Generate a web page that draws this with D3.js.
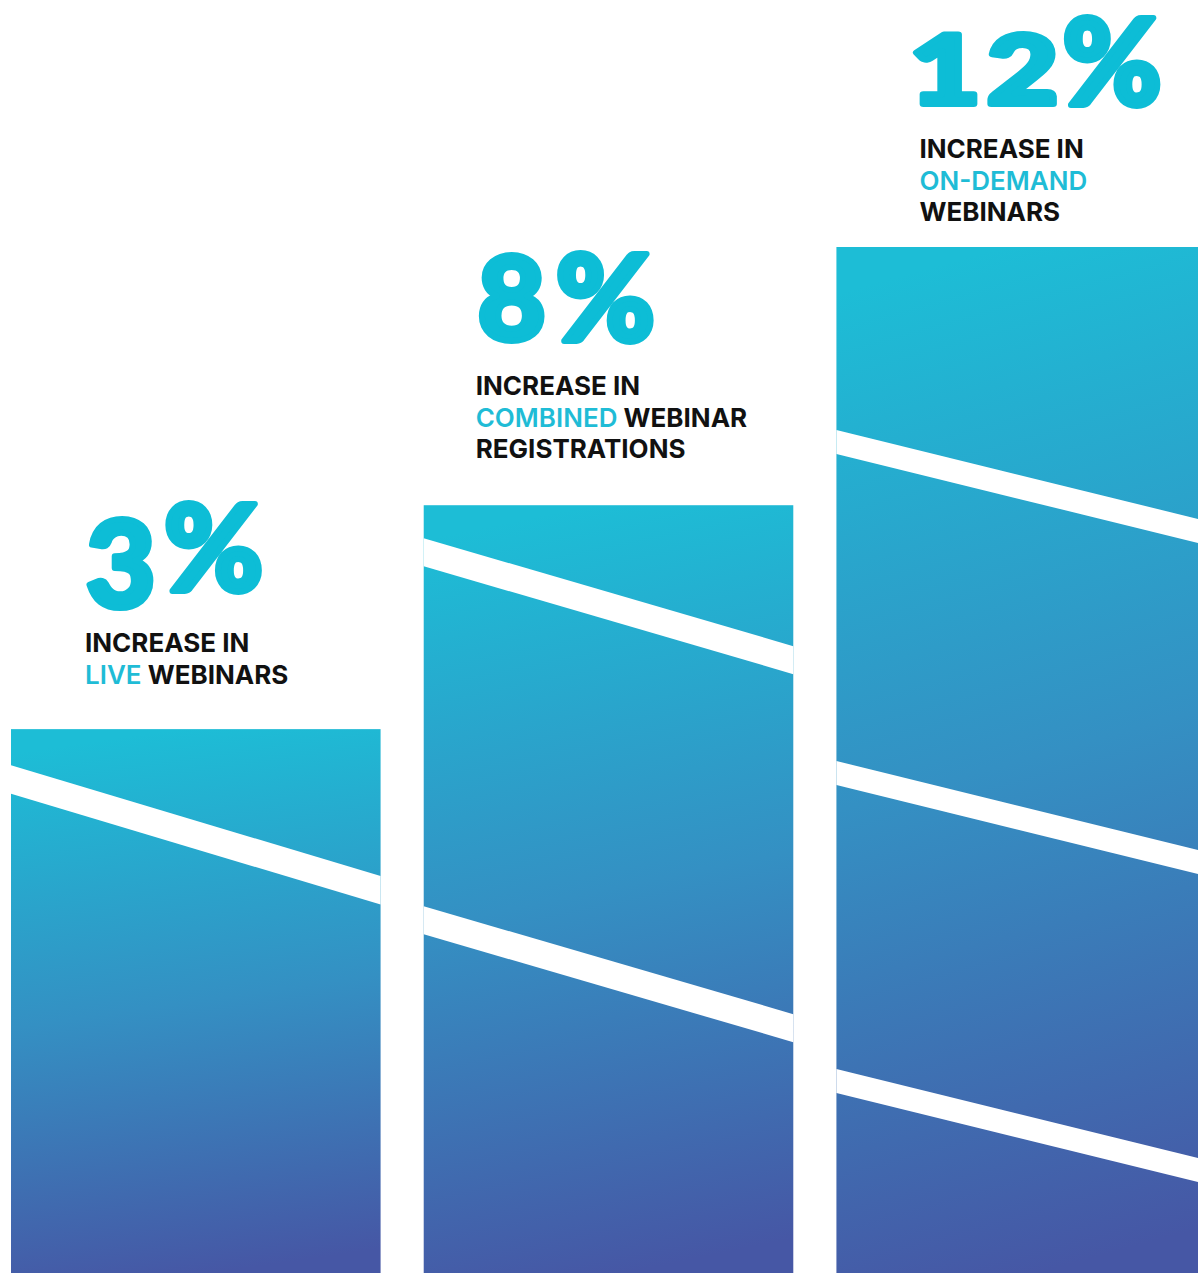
<!DOCTYPE html>
<html>
<head>
<meta charset="utf-8">
<script src="https://cdn.jsdelivr.net/npm/d3@7"></script>
<style>
  html, body { margin: 0; padding: 0; background: #ffffff; }
  svg { display: block; }
</style>
</head>
<body>
<svg id="chart" width="1198" height="1273"></svg>
<script>
// ---- data ----
const categories = ["live", "combined", "ondemand"];
const values = [3, 8, 12];
const valueLabels = ["3", "8", "12"];
// label lines; each line is a list of [text, highlighted]
const labelLines = [
  [[["INCREASE IN", false]], [["LIVE", true], ["WEBINARS", false]]],
  [[["INCREASE IN", false]], [["COMBINED", true], ["WEBINAR", false]], [["REGISTRATIONS", false]]],
  [[["INCREASE IN", false]], [["ON-DEMAND", true]], [["WEBINARS", false]]]
];

// ---- layout ----
const W = 1198, H = 1273;
const CYAN = "#0dbdd6";
const INK = "#111111";

// per-bar decoration: diagonal white cuts (offset from bar top at left edge), slope, thickness
// and where the headline number and caption sit relative to the bar
const barStyle = [
  { cuts: [36], slope: 0.300, cut: 28.5,
    num: { dx: 75, dy: -122, size: 120, sx: 1, ls: 0 }, pct: { dx: 153, dy: -138, size: 120 },
    cap: { dx: 74, dy: -77 } },
  { cuts: [33, 401], slope: 0.292, cut: 28,
    num: { dx: 54, dy: -165, size: 117, sx: 1, ls: 0 }, pct: { dx: 132, dy: -164, size: 120 },
    cap: { dx: 52, dy: -110 } },
  { cuts: [183, 514, 822], slope: 0.246, cut: 24,
    num: { dx: 73, dy: -143, size: 96, sx: 1.28, ls: 5 }, pct: { dx: 226, dy: -142, size: 120 },
    cap: { dx: 83, dy: -89 } }
];

const svg = d3.select("#chart");

const x = d3.scaleBand()
  .domain(categories)
  .range([11, 1206])
  .paddingInner(0.1045)
  .paddingOuter(0);

const y = d3.scalePow()
  .exponent(1.6)
  .domain([0, 12])
  .range([788, 247]);

// vertical gradient per bar: cyan at the top, indigo at the base
const defs = svg.append("defs");
const grad = defs.append("linearGradient")
  .attr("id", "barGrad")
  .attr("x1", 0.45).attr("y1", 0)
  .attr("x2", 0.55).attr("y2", 1);
grad.append("stop").attr("offset", 0).attr("stop-color", "#1dbdd6");
grad.append("stop").attr("offset", 0.5).attr("stop-color", "#3490c3");
grad.append("stop").attr("offset", 1).attr("stop-color", "#4657a5");

const bars = svg.selectAll("g.bar")
  .data(values)
  .join("g")
  .attr("class", "bar");

bars.append("rect")
  .attr("x", (d, i) => x(categories[i]))
  .attr("y", d => y(d))
  .attr("width", x.bandwidth())
  .attr("height", d => H - y(d))
  .attr("fill", "url(#barGrad)");

// diagonal white cuts across each bar
bars.each(function (d, i) {
  const g = d3.select(this);
  const st = barStyle[i];
  const x0 = x(categories[i]);
  const x1 = x0 + x.bandwidth();
  const top = y(d);
  const drop = st.slope * x.bandwidth();
  g.selectAll("polygon")
    .data(st.cuts)
    .join("polygon")
    .attr("fill", "#ffffff")
    .attr("points", c => [
      [x0, top + c],
      [x1, top + c + drop],
      [x1, top + c + drop + st.cut],
      [x0, top + c + st.cut]
    ].map(p => p.join(",")).join(" "));
});

// headline numbers and captions
const heavy = sel => sel
  .attr("font-family", "Lato, 'Open Sans', sans-serif")
  .attr("font-weight", 900)
  .attr("fill", CYAN)
  .attr("stroke", CYAN)
  .attr("stroke-width", 6)
  .attr("stroke-linejoin", "round");

bars.each(function (d, i) {
  const g = d3.select(this);
  const st = barStyle[i];
  const x0 = x(categories[i]);
  const top = y(d);

  g.append("text")
    .attr("transform", `translate(${x0 + st.num.dx},${top + st.num.dy}) scale(${st.num.sx},1)`)
    .attr("font-size", st.num.size)
    .attr("letter-spacing", st.num.ls)
    .call(heavy)
    .text(valueLabels[i]);

  g.append("text")
    .attr("x", x0 + st.pct.dx)
    .attr("y", top + st.pct.dy)
    .attr("font-size", st.pct.size)
    .call(heavy)
    .text("%");

  labelLines[i].forEach((line, li) => {
    const t = g.append("text")
      .attr("x", x0 + st.cap.dx)
      .attr("y", top + st.cap.dy + li * 31.5)
      .attr("font-family", "Inter, 'Open Sans', sans-serif")
      .attr("font-size", 26);
    line.forEach(([txt, hi], si) => {
      t.append("tspan")
        .attr("fill", hi ? "#1fbcd6" : INK)
        .attr("font-weight", hi ? 600 : 700)
        .text((si > 0 ? " " : "") + txt);
    });
  });
});
</script>
</body>
</html>
